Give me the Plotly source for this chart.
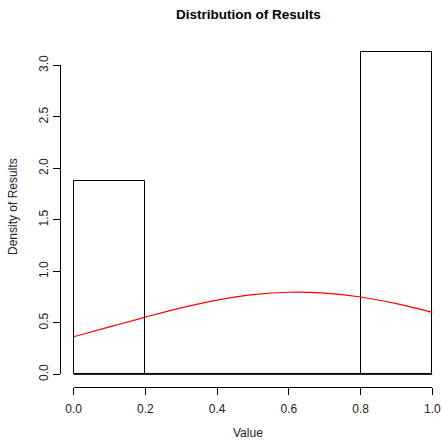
import plotly.graph_objects as go

# Histogram bins (density scale)
bin_starts = [0.0, 0.2, 0.4, 0.6, 0.8]
bin_width = 0.2
densities = [1.875, 0.0, 0.0, 0.0, 3.125]

# Fitted density curve
curve_x = [0.0, 0.1, 0.2, 0.3, 0.4, 0.5, 0.6, 0.7, 0.8, 0.9, 1.0]
curve_y = [0.365, 0.46, 0.556, 0.646, 0.721, 0.773, 0.797, 0.789, 0.751, 0.686, 0.602]

x_ticks = [0.0, 0.2, 0.4, 0.6, 0.8, 1.0]
x_tick_labels = ["0.0", "0.2", "0.4", "0.6", "0.8", "1.0"]
y_ticks = [0.0, 0.5, 1.0, 1.5, 2.0, 2.5, 3.0]
y_tick_labels = ["0.0", "0.5", "1.0", "1.5", "2.0", "2.5", "3.0"]

W, H = 442, 440
ML, MR, MT, MB = 60, 6, 50, 53
x_range = [-0.0382, 1.0103]
y_range = [-0.123, 3.149]

centers = [s + bin_width / 2 for s in bin_starts]

fig = go.Figure()
fig.add_trace(go.Bar(
    x=centers, y=densities, width=[bin_width] * len(centers),
    marker=dict(color="rgba(255,255,255,0)", line=dict(color="black", width=1)),
    hoverinfo="skip", showlegend=False,
))
fig.add_trace(go.Scatter(
    x=curve_x, y=curve_y, mode="lines",
    line=dict(color="red", width=1.2, shape="spline"),
    showlegend=False, hoverinfo="skip",
))
# invisible trace so the detached axes (x2/y2) are drawn
fig.add_trace(go.Scatter(
    x=[x_ticks[0], x_ticks[-1]], y=[y_ticks[0], y_ticks[-1]],
    xaxis="x2", yaxis="y2", mode="markers",
    marker=dict(opacity=0, size=1), showlegend=False, hoverinfo="skip",
))

font_family = "Liberation Sans, Arial, Helvetica, sans-serif"


def xpaper(v):
    return (v - x_range[0]) / (x_range[1] - x_range[0])


def ypaper(v):
    return (v - y_range[0]) / (y_range[1] - y_range[0])


# baseline of the histogram (R draws zero-height bins as flat lines)
fig.add_shape(type="line", xref="x", yref="y", y0=0, y1=0,
              x0=bin_starts[0], x1=bin_starts[-1] + bin_width,
              line=dict(color="black", width=1))

fig.add_annotation(text="<b>Distribution of Results</b>", xref="paper", yref="paper",
                   x=0.5, y=1 + (MT - 14) / (H - MT - MB), xanchor="center", yanchor="middle",
                   showarrow=False, font=dict(size=13.5, color="black"))
fig.add_annotation(text="Value", xref="paper", yref="paper",
                   x=0.5, y=-(433 - (H - MB)) / (H - MT - MB), xanchor="center", yanchor="middle",
                   showarrow=False, font=dict(size=12, color="#222"))
fig.add_annotation(text="Density of Results", xref="paper", yref="paper",
                   x=-(ML - 13) / (W - ML - MR), y=((H - MB) - 207) / (H - MT - MB),
                   xanchor="center", yanchor="middle", textangle=-90,
                   showarrow=False, font=dict(size=12, color="#222"))

hidden = dict(showgrid=False, zeroline=False, showline=False, showticklabels=False,
              ticks="", automargin=False)

fig.update_layout(
    width=W, height=H,
    margin=dict(l=ML, r=MR, t=MT, b=MB),
    paper_bgcolor="white", plot_bgcolor="rgba(0,0,0,0)",
    font=dict(family=font_family, size=12, color="black"),
    bargap=0,
    xaxis=dict(range=x_range, **hidden),
    yaxis=dict(range=y_range, **hidden),
    # Detached R-style axes spanning only the tick range
    xaxis2=dict(domain=[xpaper(x_ticks[0]), xpaper(x_ticks[-1])],
                range=[x_ticks[0], x_ticks[-1]], anchor="free", position=0,
                tickvals=x_ticks, ticktext=x_tick_labels,
                showline=True, linecolor="black", linewidth=1,
                ticks="outside", ticklen=7, tickcolor="black", tickwidth=1,
                showgrid=False, zeroline=False, automargin=False,
                ticklabelstandoff=4, tickfont=dict(size=12, color="#222")),
    yaxis2=dict(domain=[ypaper(y_ticks[0]), ypaper(y_ticks[-1])],
                range=[y_ticks[0], y_ticks[-1]], anchor="free", position=0,
                tickvals=y_ticks, ticktext=y_tick_labels,
                showline=True, linecolor="black", linewidth=1,
                ticks="outside", ticklen=7, tickcolor="black", tickwidth=1,
                showgrid=False, zeroline=False, automargin=False, tickangle=-90,
                tickfont=dict(size=12, color="#222")),
)

fig.write_html("out.html", config={"displayModeBar": False},
               post_script="document.body.style.margin='0';document.body.style.overflow='hidden';")
